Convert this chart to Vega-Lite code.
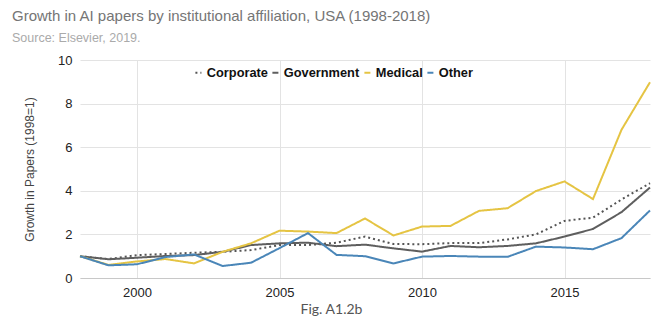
{
  "$schema": "https://vega.github.io/schema/vega-lite/v6.json",
  "width": 570,
  "height": 218,
  "autosize": {"type": "none"},
  "padding": {"left": 80, "top": 60, "right": 20, "bottom": 46},
  "background": "white",
  "title": {
    "text": "Growth in AI papers by institutional affiliation, USA (1998-2018)",
    "subtitle": "Source: Elsevier, 2019.",
    "anchor": "start",
    "frame": "group",
    "dx": -68,
    "offset": 10,
    "font": "Liberation Sans",
    "fontSize": 15,
    "fontWeight": "normal",
    "color": "#757575",
    "subtitleFont": "Liberation Sans",
    "subtitleFontSize": 12.5,
    "subtitleColor": "#aaaaaa",
    "subtitlePadding": 8
  },
  "config": {
    "view": {"stroke": null},
    "font": "Liberation Sans"
  },
  "datasets": {
    "papers": [
      {"year": 1998, "series": "Corporate", "value": 1.0},
      {"year": 1999, "series": "Corporate", "value": 0.87},
      {"year": 2000, "series": "Corporate", "value": 1.05},
      {"year": 2001, "series": "Corporate", "value": 1.1},
      {"year": 2002, "series": "Corporate", "value": 1.16},
      {"year": 2003, "series": "Corporate", "value": 1.2},
      {"year": 2004, "series": "Corporate", "value": 1.28},
      {"year": 2005, "series": "Corporate", "value": 1.51},
      {"year": 2006, "series": "Corporate", "value": 1.51},
      {"year": 2007, "series": "Corporate", "value": 1.62},
      {"year": 2008, "series": "Corporate", "value": 1.9},
      {"year": 2009, "series": "Corporate", "value": 1.56},
      {"year": 2010, "series": "Corporate", "value": 1.55},
      {"year": 2011, "series": "Corporate", "value": 1.6},
      {"year": 2012, "series": "Corporate", "value": 1.6},
      {"year": 2013, "series": "Corporate", "value": 1.77},
      {"year": 2014, "series": "Corporate", "value": 2.0},
      {"year": 2015, "series": "Corporate", "value": 2.62},
      {"year": 2016, "series": "Corporate", "value": 2.77},
      {"year": 2017, "series": "Corporate", "value": 3.6},
      {"year": 2018, "series": "Corporate", "value": 4.35},
      {"year": 1998, "series": "Government", "value": 1.0},
      {"year": 1999, "series": "Government", "value": 0.86},
      {"year": 2000, "series": "Government", "value": 0.93},
      {"year": 2001, "series": "Government", "value": 1.01},
      {"year": 2002, "series": "Government", "value": 1.05},
      {"year": 2003, "series": "Government", "value": 1.2},
      {"year": 2004, "series": "Government", "value": 1.51},
      {"year": 2005, "series": "Government", "value": 1.59},
      {"year": 2006, "series": "Government", "value": 1.62},
      {"year": 2007, "series": "Government", "value": 1.46},
      {"year": 2008, "series": "Government", "value": 1.53},
      {"year": 2009, "series": "Government", "value": 1.36},
      {"year": 2010, "series": "Government", "value": 1.21},
      {"year": 2011, "series": "Government", "value": 1.47},
      {"year": 2012, "series": "Government", "value": 1.41},
      {"year": 2013, "series": "Government", "value": 1.47},
      {"year": 2014, "series": "Government", "value": 1.59},
      {"year": 2015, "series": "Government", "value": 1.9},
      {"year": 2016, "series": "Government", "value": 2.25},
      {"year": 2017, "series": "Government", "value": 3.02},
      {"year": 2018, "series": "Government", "value": 4.15},
      {"year": 1998, "series": "Medical", "value": 1.0},
      {"year": 1999, "series": "Medical", "value": 0.6},
      {"year": 2000, "series": "Medical", "value": 0.76},
      {"year": 2001, "series": "Medical", "value": 0.87},
      {"year": 2002, "series": "Medical", "value": 0.67},
      {"year": 2003, "series": "Medical", "value": 1.2},
      {"year": 2004, "series": "Medical", "value": 1.59},
      {"year": 2005, "series": "Medical", "value": 2.17},
      {"year": 2006, "series": "Medical", "value": 2.13},
      {"year": 2007, "series": "Medical", "value": 2.06},
      {"year": 2008, "series": "Medical", "value": 2.73},
      {"year": 2009, "series": "Medical", "value": 1.95},
      {"year": 2010, "series": "Medical", "value": 2.36},
      {"year": 2011, "series": "Medical", "value": 2.39},
      {"year": 2012, "series": "Medical", "value": 3.08},
      {"year": 2013, "series": "Medical", "value": 3.2},
      {"year": 2014, "series": "Medical", "value": 3.99},
      {"year": 2015, "series": "Medical", "value": 4.43},
      {"year": 2016, "series": "Medical", "value": 3.62},
      {"year": 2017, "series": "Medical", "value": 6.8},
      {"year": 2018, "series": "Medical", "value": 8.98},
      {"year": 1998, "series": "Other", "value": 1.0},
      {"year": 1999, "series": "Other", "value": 0.58},
      {"year": 2000, "series": "Other", "value": 0.63},
      {"year": 2001, "series": "Other", "value": 0.96},
      {"year": 2002, "series": "Other", "value": 1.08},
      {"year": 2003, "series": "Other", "value": 0.55},
      {"year": 2004, "series": "Other", "value": 0.7},
      {"year": 2005, "series": "Other", "value": 1.37},
      {"year": 2006, "series": "Other", "value": 2.06},
      {"year": 2007, "series": "Other", "value": 1.06},
      {"year": 2008, "series": "Other", "value": 1.0},
      {"year": 2009, "series": "Other", "value": 0.67},
      {"year": 2010, "series": "Other", "value": 0.98},
      {"year": 2011, "series": "Other", "value": 1.01},
      {"year": 2012, "series": "Other", "value": 0.98},
      {"year": 2013, "series": "Other", "value": 0.97},
      {"year": 2014, "series": "Other", "value": 1.44},
      {"year": 2015, "series": "Other", "value": 1.4},
      {"year": 2016, "series": "Other", "value": 1.32},
      {"year": 2017, "series": "Other", "value": 1.83},
      {"year": 2018, "series": "Other", "value": 3.1}
    ]
  },
  "data": {"name": "papers"},
  "mark": {"type": "line", "strokeWidth": 2},
  "encoding": {
    "x": {
      "field": "year",
      "type": "quantitative",
      "scale": {"domain": [1998, 2018], "nice": false, "zero": false},
      "axis": {
        "values": [2000, 2005, 2010, 2015],
        "format": "d",
        "grid": true,
        "gridColor": "#e3e3e3",
        "domainColor": "#c8c8c8",
        "ticks": false,
        "labelPadding": 8,
        "labelFontSize": 13,
        "labelColor": "#222222",
        "title": "Fig. A1.2b",
        "titleFont": "Lato",
        "titleFontSize": 14,
        "titleFontWeight": "normal",
        "titleColor": "#555555",
        "titleX": 251,
        "titleY": 35,
        "titleBaseline": "alphabetic",
        "titleAnchor": "middle"
      }
    },
    "y": {
      "field": "value",
      "type": "quantitative",
      "scale": {"domain": [0, 10], "nice": false},
      "axis": {
        "values": [0, 2, 4, 6, 8, 10],
        "grid": true,
        "gridColor": "#e3e3e3",
        "domain": false,
        "ticks": false,
        "labelPadding": 8,
        "labelFontSize": 13,
        "labelColor": "#222222",
        "title": "Growth in Papers (1998=1)",
        "titleFontSize": 12,
        "titleFontWeight": "normal",
        "titleColor": "#444444",
        "titlePadding": 21
      }
    },
    "color": {
      "field": "series",
      "type": "nominal",
      "scale": {
        "domain": ["Corporate", "Government", "Medical", "Other"],
        "range": ["#555555", "#5e5e5e", "#e5c443", "#4a86b8"]
      },
      "legend": {
        "orient": "none",
        "legendX": 112,
        "legendY": 6,
        "direction": "horizontal",
        "title": null,
        "labelFontSize": 12.8,
        "labelFontWeight": "bold",
        "labelColor": "#111111",
        "symbolType": "stroke",
        "symbolSize": 36,
        "symbolStrokeWidth": 2,
        "columnPadding": 0,
        "labelOffset": 2
      }
    },
    "strokeDash": {
      "field": "series",
      "type": "nominal",
      "scale": {
        "domain": ["Corporate", "Government", "Medical", "Other"],
        "range": [[2, 3], [1, 0], [1, 0], [1, 0]]
      },
      "legend": null
    }
  }
}
